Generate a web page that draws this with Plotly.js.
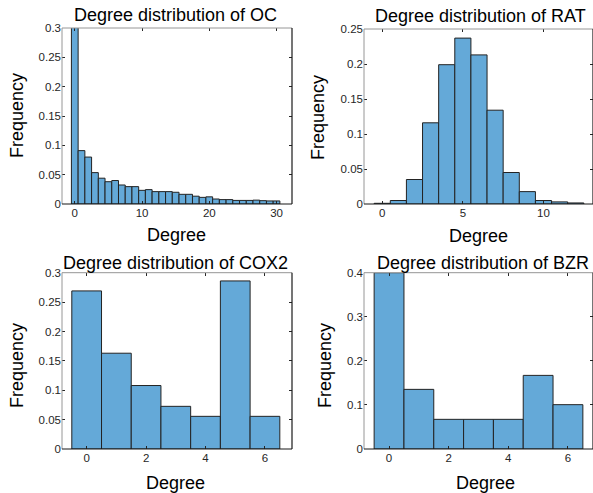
<!DOCTYPE html>
<html>
<head>
<meta charset="utf-8">
<script src="https://cdn.plot.ly/plotly-3.0.1.min.js"></script>
<style>html,body{margin:0;padding:0;background:#fff;}#chart{width:593px;height:493px;}</style>
</head>
<body>
<div id="chart"></div>
<script>
// ---- data ----
const ocDegree = [0,1,2,3,4,5,6,7,8,9,10,11,12,13,14,15,16,17,18,19,20,21,22,23,24,25,26,27,28,29,30];
const ocFreq = [0.36,0.091,0.080,0.0535,0.044,0.038,0.040,0.0324,0.0296,0.0296,0.0233,0.0245,0.0211,0.0211,0.0211,0.0200,0.0165,0.0165,0.0133,0.0113,0.0122,0.0085,0.0075,0.0075,0.0061,0.0061,0.0061,0.0066,0.0057,0.0052,0.0052];

const ratDegree = [0,1,2,3,4,5,6,7,8,9,10,11,12];
const ratFreq = [0.001,0.005,0.035,0.116,0.199,0.237,0.213,0.134,0.045,0.0177,0.005,0.003,0.0015];

const cox2Degree = [0,1,2,3,4,5,6];
const cox2Freq = [0.269,0.163,0.108,0.0726,0.0556,0.286,0.0556];

const bzrDegree = [0,1,2,3,4,5,6];
const bzrFreq = [0.40,0.1353,0.0673,0.0673,0.0673,0.167,0.1006];

const titles = ['Degree distribution of OC','Degree distribution of RAT','Degree distribution of COX2','Degree distribution of BZR'];
const xTitle = 'Degree';
const yTitle = 'Frequency';

// ---- style ----
const W = 593, H = 493;
const FONT = 'Liberation Sans, Arial, Helvetica, sans-serif';
const barColor = 'rgb(100,169,216)';
const edgeColor = 'rgb(35,35,35)';
const tickColor = 'rgb(38,38,38)';

// pixel boxes [left, right, top, bottom]
const boxes = [
  [62, 292, 28, 204],
  [364, 593, 29, 204],
  [62, 292, 272.7, 449],
  [364, 593, 272.7, 449]
];
const xRanges = [[-1.9, 32.3], [-1.13, 13.07], [-0.83, 6.91], [-0.84, 6.84]];
const yRanges = [[0, 0.3], [0, 0.25], [0, 0.3], [0, 0.4]];
const xDticks = [10, 5, 2, 2];
const yDticks = [0.05, 0.05, 0.05, 0.1];

const dataSets = [[ocDegree, ocFreq],[ratDegree, ratFreq],[cox2Degree, cox2Freq],[bzrDegree, bzrFreq]];

const px = x => x / W;
const py = y => 1 - y / H;

const traces = [];
const layout = {
  width: W, height: H,
  margin: {l:0, r:0, t:0, b:0},
  paper_bgcolor: '#fff', plot_bgcolor: '#fff',
  showlegend: false,
  bargap: 0,
  font: {family: FONT, color: tickColor},
  annotations: [],
  shapes: []
};

dataSets.forEach((d, i) => {
  const n = i === 0 ? '' : String(i + 1);
  traces.push({
    type: 'bar', x: d[0], y: d[1], width: 1,
    xaxis: 'x' + n, yaxis: 'y' + n,
    marker: {color: barColor, line: {color: edgeColor, width: 1}},
    hoverinfo: 'x+y'
  });
  const b = boxes[i];
  layout['xaxis' + n] = {
    domain: [px(b[0]), px(b[1])],
    anchor: 'y' + n,
    range: xRanges[i],
    dtick: xDticks[i], tick0: 0,
    ticks: 'inside', ticklen: 3, tickcolor: tickColor, tickwidth: 1,
    mirror: 'ticks', showline: false,
    showgrid: false, zeroline: false,
    tickfont: {family: FONT, size: 11.5, color: tickColor},
    fixedrange: true
  };
  layout['yaxis' + n] = {
    domain: [py(b[3]), py(b[2])],
    anchor: 'x' + n,
    range: yRanges[i],
    dtick: yDticks[i], tick0: 0,
    ticks: 'inside', ticklen: 3, tickcolor: tickColor, tickwidth: 1,
    mirror: 'ticks', showline: false,
    showgrid: false, zeroline: false,
    tickfont: {family: FONT, size: 11.5, color: tickColor},
    fixedrange: true
  };
  // box lines: left/top light, bottom/right dark
  const L = px(b[0]), R = px(b[1]), T = py(b[2]), B = py(b[3]);
  layout.shapes.push(
    {type:'line', xref:'paper', yref:'paper', x0:L, x1:L, y0:B, y1:T, line:{color:'rgb(150,150,150)', width:1}},
    {type:'line', xref:'paper', yref:'paper', x0:L, x1:R, y0:T, y1:T, line:{color:'rgb(150,150,150)', width:1}},
    {type:'line', xref:'paper', yref:'paper', x0:L, x1:R, y0:B, y1:B, line:{color:'rgb(25,25,25)', width:1.2}},
    {type:'line', xref:'paper', yref:'paper', x0:R, x1:R, y0:B, y1:T, line:{color:'rgb(25,25,25)', width:1.2}}
  );
});

// titles
const titlePos = [[175, 15], [480, 16], [175, 263], [483, 263]];
const xTitlePos = [[176, 235], [478, 236], [175, 482.5], [485, 482.5]];
const yTitlePos = [[17, 116], [318, 118], [17, 366], [325, 366]];
titles.forEach((t, i) => {
  layout.annotations.push({
    text: t, xref:'paper', yref:'paper', x: px(titlePos[i][0]), y: py(titlePos[i][1]),
    xanchor:'center', yanchor:'middle', showarrow:false,
    font:{family: FONT, size: 18, color:'#000'}
  });
  layout.annotations.push({
    text: xTitle, xref:'paper', yref:'paper', x: px(xTitlePos[i][0]), y: py(xTitlePos[i][1]),
    xanchor:'center', yanchor:'middle', showarrow:false,
    font:{family: FONT, size: 18, color:'#000'}
  });
  layout.annotations.push({
    text: yTitle, xref:'paper', yref:'paper', x: px(yTitlePos[i][0]), y: py(yTitlePos[i][1]),
    xanchor:'center', yanchor:'middle', showarrow:false, textangle: -90,
    font:{family: FONT, size: 18, color:'#000'}
  });
});

Plotly.newPlot('chart', traces, layout, {displayModeBar: false, staticPlot: true});
</script>
</body>
</html>
